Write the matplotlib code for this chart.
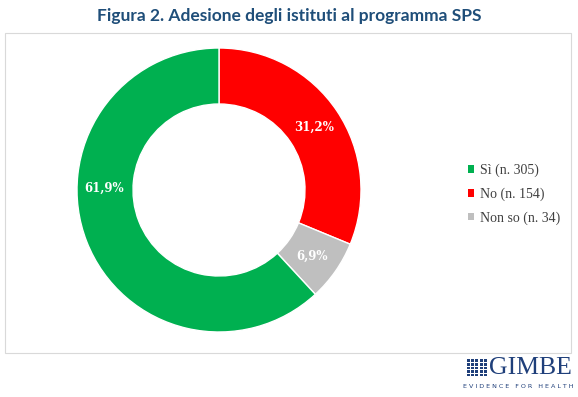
import matplotlib.pyplot as plt
from matplotlib.patches import Rectangle

categories = ["Sì (n. 305)", "No (n. 154)", "Non so (n. 34)"]
values = [305, 154, 34]
pct_labels = ["61,9%", "31,2%", "6,9%"]
colors = ["#00B050", "#FF0000", "#BFBFBF"]

fig = plt.figure(figsize=(5.78, 3.97), dpi=100)

# chart frame
frame = Rectangle((5 / 578, 1 - 353 / 397), 566 / 578, 320 / 397,
                  transform=fig.transFigure, facecolor="none",
                  edgecolor="#D9D9D9", linewidth=0.8, zorder=-1)
fig.patches.append(frame)

fig.text(0.5, 1 - 16 / 397, "Figura 2. Adesione degli istituti al programma SPS",
         ha="center", va="center", fontsize=12.5, fontweight="bold",
         color="#1F4E79", family="Lato")

# donut: centre ~ (219, 190), outer radius ~142 px, inner ~86 px
ax = fig.add_axes([(219 - 146) / 578, 1 - (190 + 146) / 397, 292 / 578, 292 / 397])
# order clockwise from top: No, Non so, Sì
order = [1, 2, 0]
wedges, _ = ax.pie([values[i] for i in order], colors=[colors[i] for i in order],
                   startangle=90, counterclock=False, radius=142 / 146,
                   wedgeprops=dict(width=56 / 146, edgecolor="white", linewidth=1))
ax.set_aspect("equal")
ax.set_xlim(-1, 1)
ax.set_ylim(-1, 1)
ax.axis("off")

label_pos = {0: (104, 188), 1: (314, 127), 2: (312, 256)}
for i, (px, py) in label_pos.items():
    fig.text(px / 578, 1 - py / 397, pct_labels[i], ha="center", va="center",
             fontsize=8.5, fontweight="bold", color="white", family="DejaVu Serif")

handles = [Rectangle((0, 0), 1, 1, facecolor=c) for c in colors]
fig.legend(handles, categories, loc="center left",
           bbox_to_anchor=(455 / 578, 1 - 194 / 397), frameon=False,
           prop=dict(family="Liberation Serif", size=10), handlelength=0.5,
           handleheight=0.5, handletextpad=0.4, labelspacing=0.75,
           labelcolor="#404040")

# GIMBE logo
logo_blue = "#1F3F7A"
for r in range(5):
    for c in range(5):
        fig.patches.append(Rectangle(((467 + c * 4.2) / 578, 1 - (359 + r * 3.6 + 3) / 397),
                                     3.0 / 578, 2.6 / 397, transform=fig.transFigure,
                                     facecolor=logo_blue, edgecolor="none"))
fig.text(489 / 578, 1 - 368 / 397, "GIMBE", ha="left", va="center", fontsize=18.5,
         color=logo_blue, family="Liberation Serif")
fig.text(518 / 578, 1 - 386 / 397, "E V I D E N C E   F O R   H E A L T H", ha="center",
         va="center", fontsize=4.6, color=logo_blue, family="DejaVu Sans")

fig.savefig("out.png", dpi=100, facecolor="white")
